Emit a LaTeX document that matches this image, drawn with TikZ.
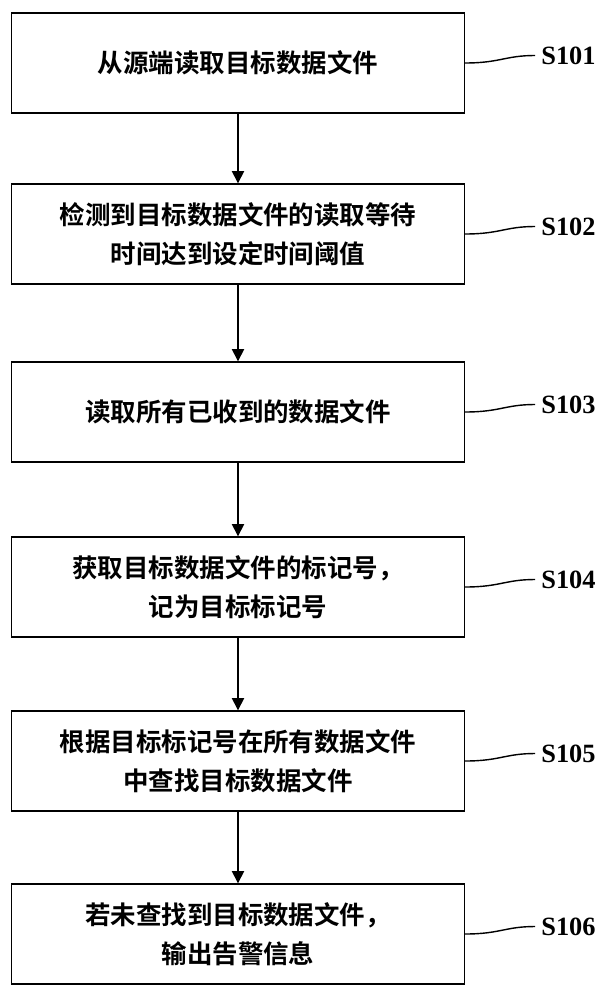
\documentclass[tikz,border=0pt]{standalone}
\usepackage{fontspec}
\setmainfont{Liberation Serif}
\newfontfamily\cjk{Noto Sans CJK SC}[BoldFont={Noto Sans CJK SC Bold}]
\usetikzlibrary{arrows.meta}
\tikzset{
  stepbox/.style={draw=black, thick, rectangle, minimum width=9.06cm, minimum height=2cm,
    align=center, font=\cjk\bfseries\fontsize{14.5}{22}\selectfont},
  steplabel/.style={font=\bfseries\fontsize{15}{17}\selectfont, anchor=west},
  flow/.style={-{Triangle[length=7pt,width=7pt]}, thick}
}
\begin{document}
\begin{tikzpicture}[x=0.02cm,y=-0.02cm]
\useasboundingbox (0,0) rectangle (608,1000);
% steps
\node[stepbox] (s1) at (238,63) {从源端读取目标数据文件};
\node[stepbox] (s2) at (238,234) {检测到目标数据文件的读取等待\\时间达到设定时间阈值};
\node[stepbox] (s3) at (238,412) {读取所有已收到的数据文件};
\node[stepbox] (s4) at (238,587) {获取目标数据文件的标记号，\\记为目标标记号};
\node[stepbox] (s5) at (238,761) {根据目标标记号在所有数据文件\\中查找目标数据文件};
\node[stepbox] (s6) at (238,934) {若未查找到目标数据文件，\\输出告警信息};
% arrows
\foreach \a/\b in {s1/s2,s2/s3,s3/s4,s4/s5,s5/s6}
  \draw[flow] (\a.south) -- (\b.north);
% labels
\foreach \s/\n in {s1/S101,s2/S102,s3/S103,s4/S104,s5/S105,s6/S106}{
  \node[steplabel] (l\n) at ([xshift=1.4cm,yshift=0.15cm]\s.east) {\n};
  \draw[thick] (\s.east) .. controls +(0.7cm,0) and +(-0.6cm,0) .. (l\n.west);
}
\end{tikzpicture}
\end{document}
